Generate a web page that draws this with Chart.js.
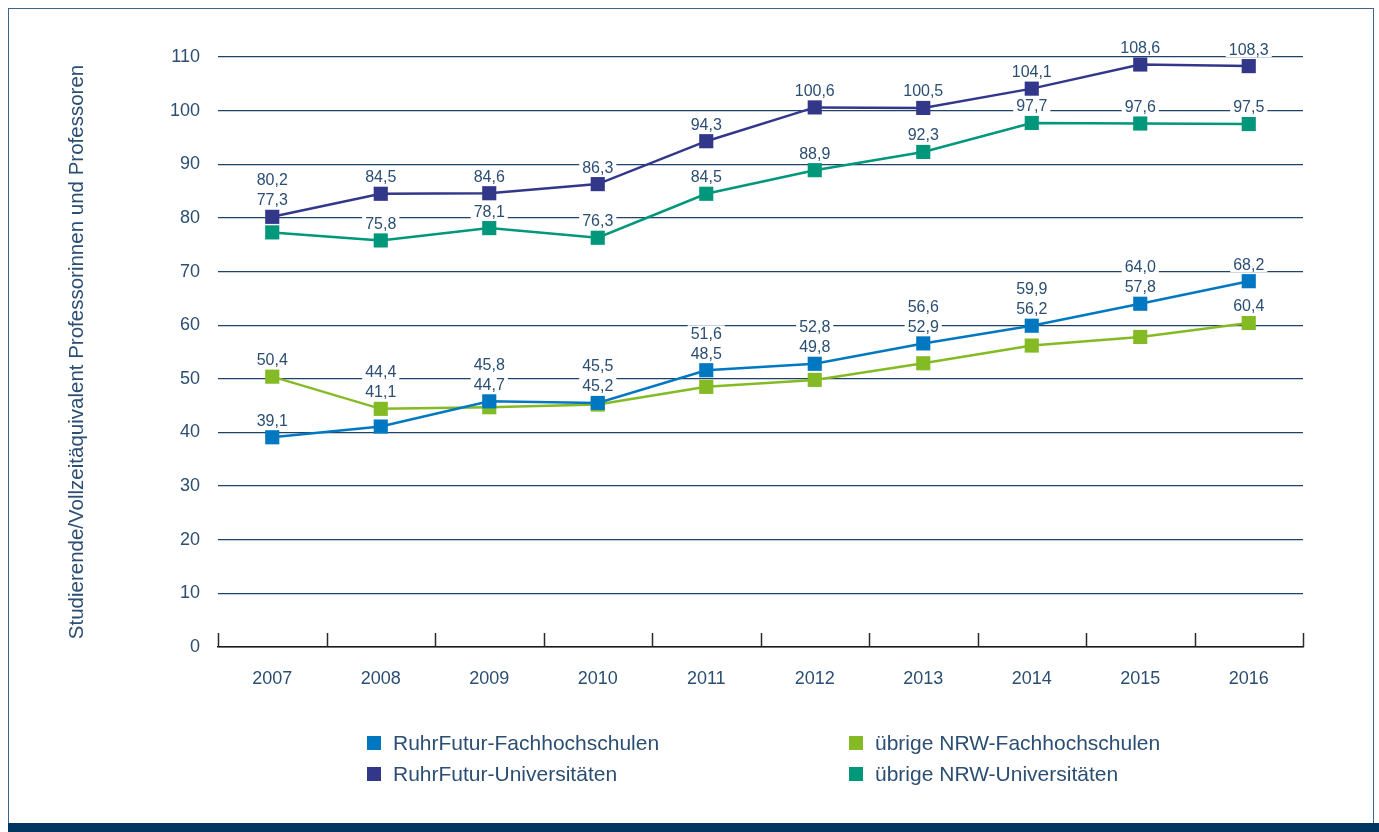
<!DOCTYPE html>
<html lang="de">
<head>
<meta charset="utf-8">
<title>Studierende je Professur</title>
<script src="https://cdn.jsdelivr.net/npm/chart.js@4.4.1/dist/chart.umd.min.js"></script>
<style>
    html, body { margin: 0; padding: 0; background: #fff; }
    body { width: 1379px; height: 832px; position: relative; overflow: hidden; font-family: "Liberation Sans", Arial, sans-serif; }
    .frame { position: absolute; left: 8px; top: 8px; width: 1366px; height: 820px; border: 1.5px solid #3f6688; border-bottom: none; box-sizing: border-box; }
    .bottom-bar { position: absolute; left: 8px; right: 0; top: 823px; height: 9px; background: #003660; }
    #chartWrap { position: absolute; left: 0; top: 0; width: 1379px; height: 832px; }
    .legend { position: absolute; left: 367px; top: 731px; display: grid; grid-template-columns: 482px 400px; row-gap: 7px; }
    .legend-item { display: flex; align-items: center; height: 24px; font-size: 21px; color: #2b4e72; }
    .legend-box { width: 14px; height: 14px; margin-right: 12px; flex: none; }
</style>
</head>
<body>
<div class="frame"></div>
<div class="bottom-bar"></div>
<div id="chartWrap"><canvas id="chart" width="1379" height="832"></canvas></div>
<div class="legend" id="legend"></div>

<script>
// Categories
const years = ['2007', '2008', '2009', '2010', '2011', '2012', '2013', '2014', '2015', '2016'];

// Series values (Studierende je Vollzeitäquivalent Professur)
const ruhrFH = [39.1, 41.1, 45.8, 45.5, 51.6, 52.8, 56.6, 59.9, 64.0, 68.2];
const nrwFH = [50.4, 44.4, 44.7, 45.2, 48.5, 49.8, 52.9, 56.2, 57.8, 60.4];
const ruhrUni = [80.2, 84.5, 84.6, 86.3, 94.3, 100.6, 100.5, 104.1, 108.6, 108.3];
const nrwUni = [77.3, 75.8, 78.1, 76.3, 84.5, 88.9, 92.3, 97.7, 97.6, 97.5];

// Y axis
const yMin = 0;
const yMax = 110;
const yStep = 10;

// Colours
const COLOR_BLUE = '#0078c1';
const COLOR_LIME = '#84bb25';
const COLOR_PURPLE = '#33378a';
const COLOR_TEAL = '#00977a';
const TEXT_COLOR = '#2b4e72';
const GRID_COLOR = '#1f4266';

const FONT = '"Liberation Sans", Arial, sans-serif';

function makeDataset(label, data, color) {
    return {
        label: label,
        data: data,
        borderColor: color,
        backgroundColor: color,
        borderWidth: 2.5,
        pointStyle: 'rect',
        pointRadius: 10,
        pointHoverRadius: 10,
        pointBorderWidth: 0,
        tension: 0
    };
}

// Format numbers German style
function fmt(v) {
    return v.toFixed(1).replace('.', ',');
}

// Draw value labels; close pairs get stacked above the upper point
const valueLabels = {
    id: 'valueLabels',
    afterDatasetsDraw(chart) {
        const ctx = chart.ctx;
        const pairs = [[0, 1], [2, 3]];
        const offset = 17;
        const spacing = 20;
        ctx.save();
        ctx.font = '16px ' + FONT;
        ctx.textAlign = 'center';
        ctx.textBaseline = 'middle';

        const drawLabel = (text, x, y) => {
            const w = ctx.measureText(text).width;
            ctx.fillStyle = '#ffffff';
            ctx.fillRect(x - w / 2 - 3, y - 8, w + 6, 16);
            ctx.fillStyle = TEXT_COLOR;
            ctx.fillText(text, x, y + 1);
        };

        years.forEach((year, i) => {
            pairs.forEach(([a, b]) => {
                const pa = chart.getDatasetMeta(a).data[i];
                const pb = chart.getDatasetMeta(b).data[i];
                const va = chart.data.datasets[a].data[i];
                const vb = chart.data.datasets[b].data[i];
                const upper = pa.y <= pb.y ? { p: pa, v: va } : { p: pb, v: vb };
                const lower = pa.y <= pb.y ? { p: pb, v: vb } : { p: pa, v: va };
                if (Math.abs(pa.y - pb.y) < 34) {
                    drawLabel(fmt(lower.v), upper.p.x, upper.p.y - offset);
                    drawLabel(fmt(upper.v), upper.p.x, upper.p.y - offset - spacing);
                } else {
                    drawLabel(fmt(upper.v), upper.p.x, upper.p.y - offset);
                    drawLabel(fmt(lower.v), lower.p.x, lower.p.y - offset);
                }
            });
        });
        ctx.restore();
    }
};

// Tick marks on the x axis pointing up into the plot, at category boundaries
const xTickMarks = {
    id: 'xTickMarks',
    afterDraw(chart) {
        const ctx = chart.ctx;
        const xScale = chart.scales.x;
        const area = chart.chartArea;
        const n = years.length;
        ctx.save();
        ctx.strokeStyle = '#2a2a2a';
        ctx.lineWidth = 1.5;
        ctx.beginPath();
        for (let i = 0; i <= n; i++) {
            let x;
            if (i === 0) x = area.left;
            else if (i === n) x = area.right;
            else x = (xScale.getPixelForValue(i - 1) + xScale.getPixelForValue(i)) / 2;
            x = Math.round(x) + 0.5;
            ctx.moveTo(x, area.bottom);
            ctx.lineTo(x, area.bottom - 14);
        }
        ctx.stroke();
        ctx.restore();
    }
};

const ctx = document.getElementById('chart').getContext('2d');

const chart = new Chart(ctx, {
    type: 'line',
    data: {
        labels: years,
        datasets: [
            makeDataset('RuhrFutur-Fachhochschulen', ruhrFH, COLOR_BLUE),
            makeDataset('übrige NRW-Fachhochschulen', nrwFH, COLOR_LIME),
            makeDataset('RuhrFutur-Universitäten', ruhrUni, COLOR_PURPLE),
            makeDataset('übrige NRW-Universitäten', nrwUni, COLOR_TEAL)
        ]
    },
    options: {
        responsive: false,
        animation: false,
        layout: {
            padding: { left: 0, right: 76, top: 57, bottom: 125 }
        },
        plugins: {
            legend: { display: false },
            tooltip: { enabled: false }
        },
        scales: {
            x: {
                offset: true,
                grid: { display: false },
                border: { display: true, color: '#1a1a1a', width: 1.5 },
                ticks: {
                    color: TEXT_COLOR,
                    padding: 13,
                    font: { family: FONT, size: 18 }
                },
                afterFit(scale) { scale.height = 60; }
            },
            y: {
                min: yMin,
                max: yMax,
                grid: { color: GRID_COLOR, lineWidth: 1.3, drawTicks: false },
                border: { display: false },
                ticks: {
                    stepSize: yStep,
                    color: TEXT_COLOR,
                    padding: 18,
                    font: { family: FONT, size: 18 }
                },
                title: {
                    display: true,
                    text: 'Studierende/Vollzeitäquivalent Professorinnen und Professoren',
                    color: TEXT_COLOR,
                    font: { family: FONT, size: 20.5 },
                    padding: { top: 65, bottom: 0 }
                },
                afterFit(scale) { scale.width = 218; }
            }
        }
    },
    plugins: [valueLabels, xTickMarks]
});

// Legend in two columns: FH in row one, Universitäten in row two
const legendOrder = [0, 1, 2, 3];
const legendEl = document.getElementById('legend');
legendOrder.forEach(idx => {
    const ds = chart.data.datasets[idx];
    const item = document.createElement('div');
    item.className = 'legend-item';
    const box = document.createElement('span');
    box.className = 'legend-box';
    box.style.background = ds.borderColor;
    const label = document.createElement('span');
    label.textContent = ds.label;
    item.appendChild(box);
    item.appendChild(label);
    legendEl.appendChild(item);
});
</script>
</body>
</html>
